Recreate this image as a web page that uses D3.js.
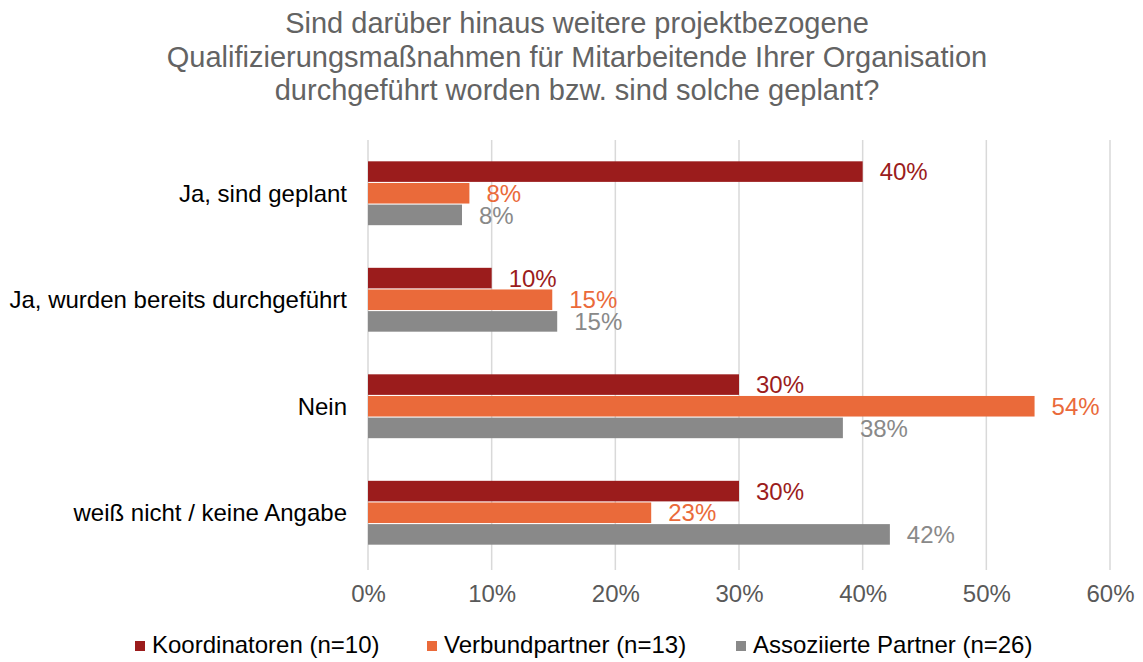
<!DOCTYPE html>
<html>
<head>
<meta charset="utf-8">
<script src="https://cdn.jsdelivr.net/npm/d3@7"></script>
<style>
  body { margin: 0; background: #fff; }
  text { font-family: "Liberation Sans", Arial, sans-serif; }
</style>
</head>
<body>
<svg id="chart" width="1143" height="662"></svg>
<script>
// data
let categories = ['Ja, sind geplant', 'Ja, wurden bereits durchgeführt', 'Nein', 'weiß nicht / keine Angabe']
let seriesNames = ['Koordinatoren (n=10)', 'Verbundpartner (n=13)', 'Assoziierte Partner (n=26)']
let koordinatoren = [40, 10, 30, 30]
let verbundpartner = [8.2, 14.9, 53.9, 22.9]
let assoziierte = [7.6, 15.3, 38.4, 42.2]
let valueLabels = [
    ['40%', '10%', '30%', '30%'],
    ['8%', '15%', '54%', '23%'],
    ['8%', '15%', '38%', '42%']
]
let xTicks = [0, 10, 20, 30, 40, 50, 60]
let titleLines = [
    'Sind darüber hinaus weitere projektbezogene',
    'Qualifizierungsmaßnahmen für Mitarbeitende Ihrer Organisation',
    'durchgeführt worden bzw. sind solche geplant?'
]
let colors = ['#9b1c1c', '#ea6a3a', '#898989']

let series = [koordinatoren, verbundpartner, assoziierte]

let svg = d3.select('#chart')
let plotLeft = 368, plotRight = 1110, plotTop = 140, plotBottom = 566

// title
svg.append('g').selectAll('text').data(titleLines).enter().append('text')
    .attr('x', 577).attr('y', (d, i) => 33 + i * 33.5)
    .attr('text-anchor', 'middle').attr('font-size', 29).attr('fill', '#636363')
    .text(d => d)

// scales
let xScale = d3.scaleLinear().domain([0, 60]).range([plotLeft, plotRight])
let yScale = d3.scaleBand().domain(categories).range([plotTop, plotBottom]).paddingInner(0.38).paddingOuter(0.19)
let ySub = d3.scaleBand().domain([0, 1, 2]).range([0, yScale.bandwidth()]).padding(0.05)

// grid
svg.append('g').selectAll('line').data(xTicks).enter().append('line')
    .attr('x1', d => xScale(d)).attr('x2', d => xScale(d))
    .attr('y1', plotTop).attr('y2', plotBottom + 4)
    .attr('stroke', '#d9d9d9').attr('stroke-width', 1.5)

// x axis
let xAxis = svg.append('g').attr('transform', 'translate(0,' + (plotBottom + 36) + ')')
    .call(d3.axisBottom(xScale).tickValues(xTicks).tickFormat(d => d + '%').tickSize(0).tickPadding(0))
xAxis.select('.domain').remove()
xAxis.selectAll('text').attr('font-size', 24).attr('fill', '#595959').attr('dy', 0)
    .style('font-family', '"Liberation Sans", Arial, sans-serif')

// y axis
let yAxis = svg.append('g').attr('transform', 'translate(347,0)')
    .call(d3.axisLeft(yScale).tickSize(0).tickPadding(0))
yAxis.select('.domain').remove()
yAxis.selectAll('text').attr('font-size', 24).attr('fill', '#000').attr('dy', '0.35em')
    .style('font-family', '"Liberation Sans", Arial, sans-serif')

// bars
series.forEach((values, s) => {
    let g = svg.append('g')
    g.selectAll('rect').data(values).enter().append('rect')
        .attr('x', xScale(0))
        .attr('y', (d, i) => yScale(categories[i]) + ySub(s))
        .attr('width', d => xScale(d) - xScale(0))
        .attr('height', ySub.bandwidth())
        .attr('fill', colors[s])
    g.selectAll('text').data(values).enter().append('text')
        .attr('x', d => xScale(d) + 17)
        .attr('y', (d, i) => yScale(categories[i]) + ySub(s) + ySub.bandwidth() / 2)
        .attr('dy', '0.36em')
        .attr('font-size', 24).attr('fill', colors[s])
        .text((d, i) => valueLabels[s][i])
})

// legend
let legendX = [135, 427, 736]
let legend = svg.append('g').selectAll('g').data(seriesNames).enter().append('g')
    .attr('transform', (d, i) => 'translate(' + legendX[i] + ',641)')
legend.append('rect').attr('width', 10).attr('height', 10).attr('fill', (d, i) => colors[i])
legend.append('text').attr('x', 17).attr('y', 12).attr('font-size', 24).attr('fill', '#000').text(d => d)
</script>
</body>
</html>
